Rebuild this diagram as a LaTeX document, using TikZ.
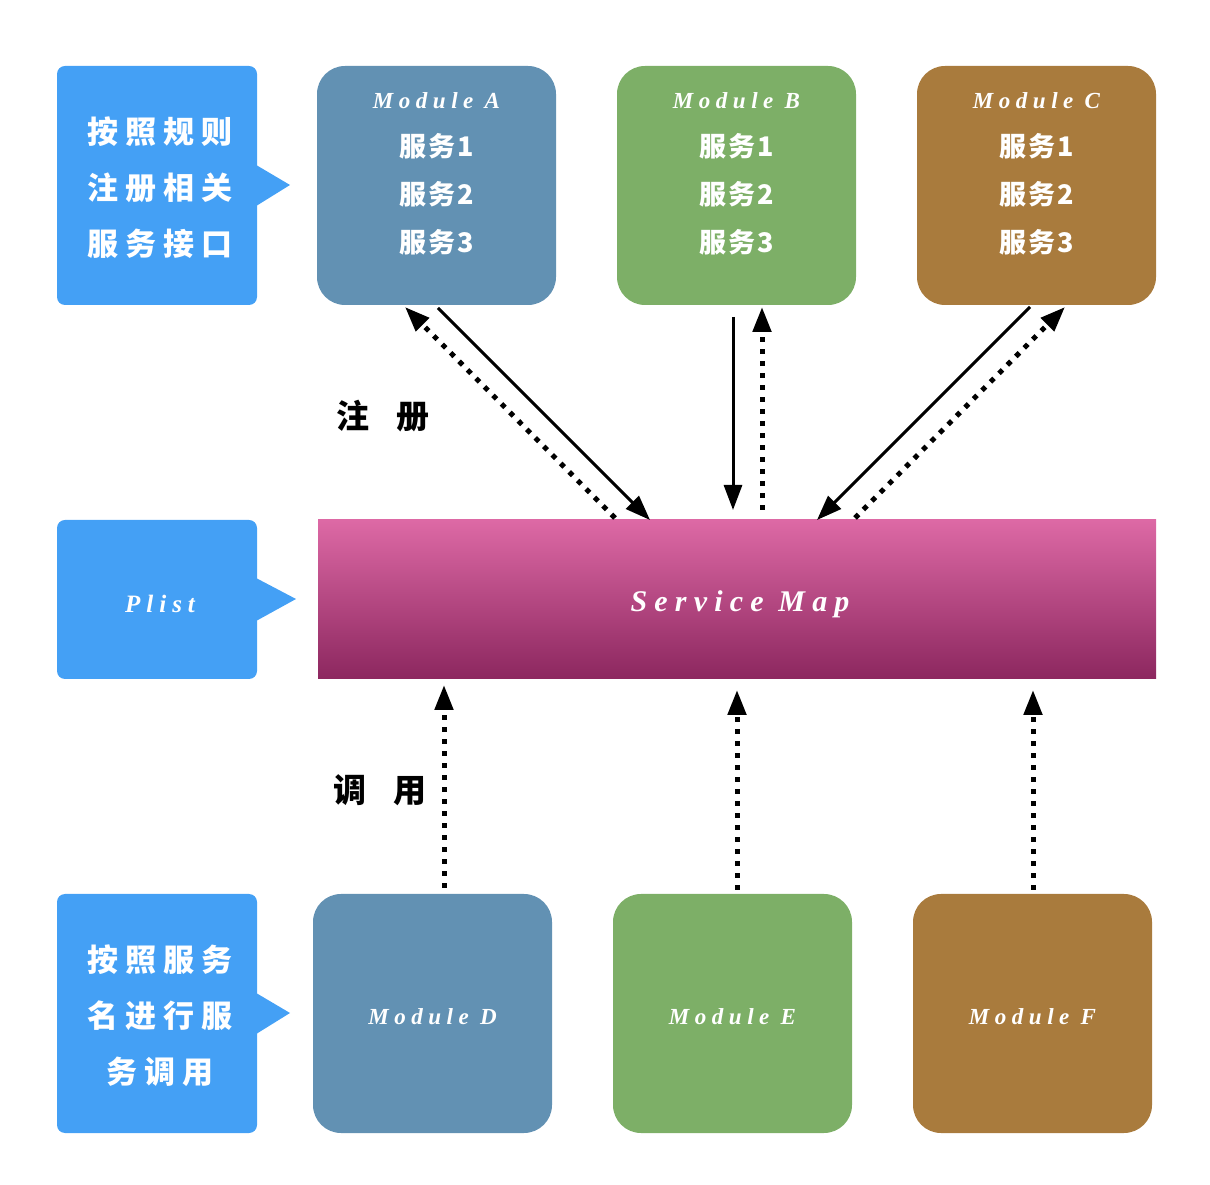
\documentclass[tikz,border=0pt]{standalone}
\usepackage{fontspec}
\usetikzlibrary{arrows.meta}
\newfontfamily\cjkcall{Noto Sans CJK SC}[LetterSpace=22]
\newfontfamily\cjkmod{Noto Sans CJK SC}[LetterSpace=8]
\newfontfamily\cjklab{Noto Sans CJK SC}
\newfontfamily\latin{Liberation Serif}[LetterSpace=24]
\definecolor{callBlue}{HTML}{44A0F5}
\definecolor{modBlue}{HTML}{6291B3}
\definecolor{modGreen}{HTML}{7DAF67}
\definecolor{modBrown}{HTML}{A97B3D}
\definecolor{mapTop}{HTML}{DD69A5}
\definecolor{mapBot}{HTML}{8C275F}

\begin{document}
\begin{tikzpicture}[x=1pt,y=1pt,
    box/.style={minimum width=239pt,minimum height=239pt,inner sep=0pt,outer sep=0pt,rounded corners=28pt},
    callbox/.style={fill=callBlue,minimum width=200pt,inner sep=0pt,outer sep=0pt,rounded corners=8pt},
    calltext/.style={text=white,align=center,font=\cjkcall\bfseries\fontsize{31pt}{56pt}\selectfont},
    modtext/.style={text=white,align=center,font=\cjkmod\bfseries\fontsize{27pt}{48pt}\selectfont},
    lattext/.style={text=white,font=\latin\bfseries\itshape\fontsize{23pt}{28pt}\selectfont},
    labtext/.style={font=\cjklab\bfseries\fontsize{33pt}{38pt}\selectfont},
    headed/.style={-{Triangle[length=25pt,width=18pt]}},
    solidarr/.style={headed,line width=3pt},
    dotarr/.style={headed,line width=5pt,dash pattern=on 5pt off 7pt}]
    \useasboundingbox (0,0) rectangle (1210,1184);

    % left callouts
    \node[callbox,minimum height=239pt] (cb1) at (157,998.5) {};
    \fill[callBlue] ([yshift=20pt]cb1.east) -- (290,999) -- ([yshift=-20pt]cb1.east) -- cycle;
    \node[calltext] (cb1t) at (160,996) {按照规则\\注册相关\\服务接口};
    \node[callbox,minimum height=159pt] (cb2) at (157,584.5) {};
    \fill[callBlue] ([yshift=21pt]cb2.east) -- (296,585) -- ([yshift=-21pt]cb2.east) -- cycle;
    \node[lattext,font=\latin\bfseries\itshape\fontsize{25pt}{30pt}\selectfont] (cb2t) at (160,580) {Plist};
    \node[callbox,minimum height=239pt] (cb3) at (157,170.5) {};
    \fill[callBlue] ([yshift=20pt]cb3.east) -- (290,171) -- ([yshift=-20pt]cb3.east) -- cycle;
    \node[calltext] (cb3t) at (160,168) {按照服务\\名进行服\\务调用};

    % modules
    \node[box,fill=modBlue] (modA) at (436.5,998.5) {};
    \node[box,fill=modGreen] (modB) at (736.5,998.5) {};
    \node[box,fill=modBrown] (modC) at (1036.5,998.5) {};
    \node[modtext] (txA) at ([yshift=12pt]modA.center) {{\latin\bfseries\itshape\fontsize{23pt}{28pt}\selectfont Module A}\\服务1\\服务2\\服务3};
    \node[modtext] (txB) at ([yshift=12pt]modB.center) {{\latin\bfseries\itshape\fontsize{23pt}{28pt}\selectfont Module B}\\服务1\\服务2\\服务3};
    \node[modtext] (txC) at ([yshift=12pt]modC.center) {{\latin\bfseries\itshape\fontsize{23pt}{28pt}\selectfont Module C}\\服务1\\服务2\\服务3};
    \node[box,fill=modBlue] (modD) at (432.5,170.5) {};
    \node[box,fill=modGreen] (modE) at (732.5,170.5) {};
    \node[box,fill=modBrown] (modF) at (1032.5,170.5) {};
    \node[lattext] (txD) at ([yshift=-3pt]modD.center) {Module D};
    \node[lattext] (txE) at ([yshift=-3pt]modE.center) {Module E};
    \node[lattext] (txF) at ([yshift=-3pt]modF.center) {Module F};

    % service map
    \node[minimum width=838pt,minimum height=159pt,inner sep=0pt,outer sep=0pt,top color=mapTop,bottom color=mapBot] (map) at (737,584.5) {};
    \node[lattext,font=\latin\bfseries\itshape\fontsize{30pt}{34pt}\selectfont] (mapt) at (740,580) {Service Map};

    % register
    \draw[solidarr] ([shift={(1.5,-3)}]modA.south) -- ([xshift=-87pt]map.north);
    \draw[dotarr] ([shift={(-122,2)}]map.north) -- ([shift={(-31.5,-2)}]modA.south);
    \draw[solidarr] ([shift={(-3.5,-12)}]modB.south) -- ([shift={(-4,10)}]map.north);
    \draw[dotarr] ([shift={(25,10)}]map.north) -- ([shift={(25.5,-2)}]modB.south);
    \draw[solidarr] ([shift={(-6.5,-2)}]modC.south) -- ([xshift=80pt]map.north);
    \draw[dotarr] ([shift={(118,2)}]map.north) -- ([shift={(28.5,-2)}]modC.south);
    \node[labtext] (reg) at (383,768) {注\hspace{28pt}册};

    % call
    \draw[dotarr] ([shift={(11.5,6)}]modD.north) -- ([shift={(-293,-6)}]map.south);
    \draw[dotarr] ([shift={(4.5,4)}]modE.north) -- ([yshift=-11pt]map.south);
    \draw[dotarr] ([shift={(0.5,4)}]modF.north) -- ([shift={(296,-11)}]map.south);
    \node[labtext] (call) at (380,394) {调\hspace{28pt}用};
\end{tikzpicture}
\end{document}
